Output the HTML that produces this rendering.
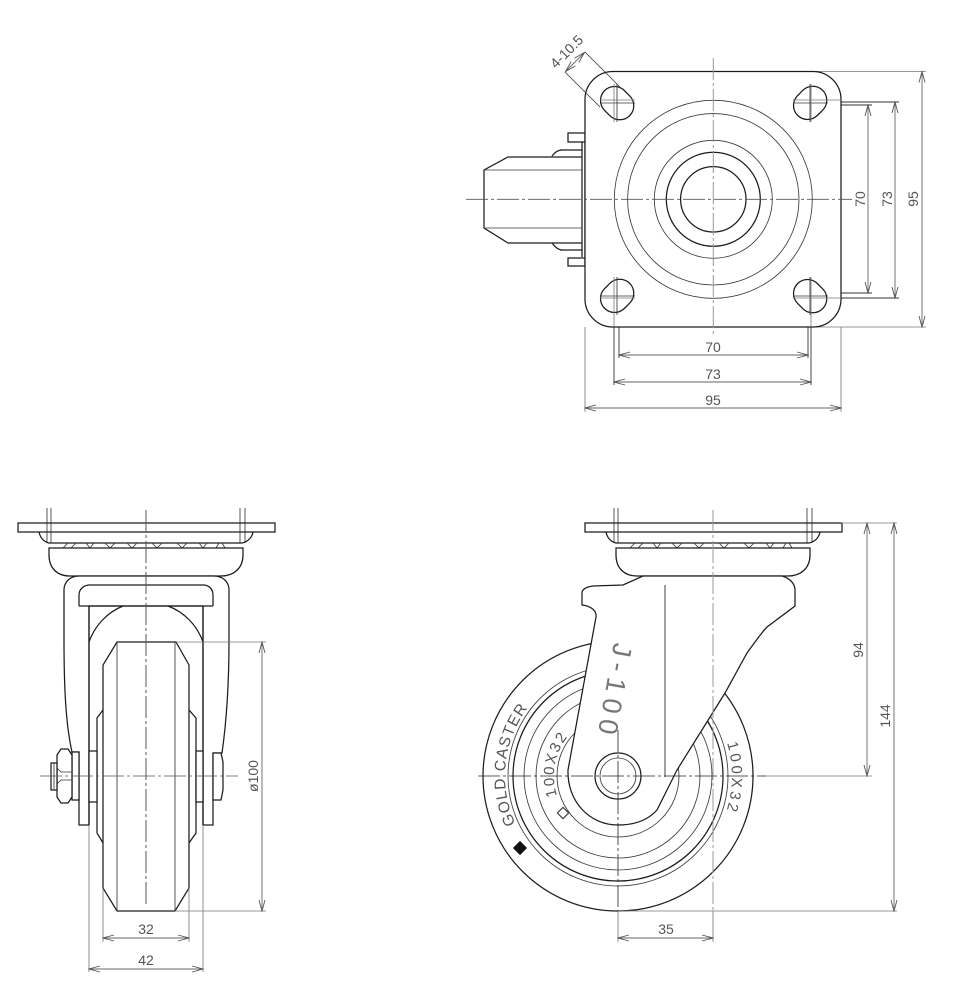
<!DOCTYPE html>
<html><head><meta charset="utf-8"><style>
html,body{margin:0;padding:0;background:#fff}
svg{display:block}
text{font-family:"Liberation Sans",sans-serif;fill:#555}
.m{fill:none;stroke:#1c1c1c;stroke-width:1.25}
.w{fill:#fff;stroke:#1c1c1c;stroke-width:1.25}
.t{fill:none;stroke:#3a3a3a;stroke-width:.85}
.e{fill:none;stroke:#777;stroke-width:.8}
.k{fill:none;stroke:#333;stroke-width:.9}
.d{fill:none;stroke:#666;stroke-width:.9}
.c{fill:none;stroke:#555;stroke-width:.8;stroke-dasharray:22 3 3 3}
.cg{fill:none;stroke:#999;stroke-width:1;stroke-dasharray:22 3 3 3}
.n{font-size:14px;text-anchor:middle}
</style></head><body>
<svg width="957" height="1000" viewBox="0 0 957 1000" xmlns="http://www.w3.org/2000/svg">
<defs>
<marker id="a" markerUnits="userSpaceOnUse" markerWidth="14" markerHeight="8" refX="13" refY="4" orient="auto-start-reverse" viewBox="0 0 14 8"><path d="M2 1 L13 4 L2 7" fill="none" stroke="#555" stroke-width=".9"/></marker>
<g id="head">
<path class="t" d="M-99 508V543M-95 508V543M94 508V543M99 508V543"/>
<rect class="m" x="-128" y="523" width="257" height="9"/>
<path class="m" d="M-107 532Q-105 541 -97 543H96Q105 541 107 532"/>
<path class="t" d="M-83 548L-78 543M-75 548L-70 543M-60 543L-56 548L-52 543M-41 543L-36 548L-31 543M-19 543L-14 548L-9 543M6 543L11 548L16 543M31 543L36 548L41 543M53 543L57 548L61 543M70 548L73 543M79 548L76 543"/>
<path class="w" d="M-97 548H97V555C97 568 88 576 75 576H-76C-89 576 -97 568 -97 555Z"/>
</g>
<path id="p1" d="M515.6 823.8A113 113 0 0 1 527.8 708"/>
<path id="p2" d="M557.1 795.8A64 64 0 0 1 569 735"/>
<path id="p3" d="M727 743A114 114 0 0 1 726.4 811"/>
</defs>

<!-- TOP VIEW -->
<g>
<path class="k" d="M619 300V358M808 300V358M614 296V385M811 296V385"/>
<path class="e" d="M585 327V412M841 327V412"/>
<path class="e" d="M815 71.5H926M815 327H926"/>
<path class="k" d="M809 102H899M809 298H899M809 105H872M809 293H872"/>
<path class="m" d="M568 133H585V142H568ZM568 258H585V266H568Z" />
<path class="m" d="M582 142V257M585 142V257M560 150H582M552 156C555 152 558 150 562 150M560 250H582M552 243C555 247 558 250 562 250"/>
<path class="m" d="M582 157H508L484 170V228L508 243H582"/>
<path class="t" d="M484 170H582M484 228H582"/>
<rect class="w" x="585" y="71.5" width="256" height="255.500" rx="28"/>
<circle class="t" cx="713.300" cy="199.300" r="99"/>
<circle class="t" cx="713.300" cy="199.300" r="85.700"/>
<circle class="t" cx="713.300" cy="199.300" r="59"/>
<circle class="m" cx="713.300" cy="199.300" r="47"/>
<circle class="m" cx="713.300" cy="199.300" r="32.700"/>
<rect class="m" x="599.500" y="89" width="35.400" height="28" rx="14" transform="rotate(45 617 103)"/>
<rect class="m" x="792.500" y="89" width="35.400" height="28" rx="14" transform="rotate(-45 810 103)"/>
<rect class="m" x="599.500" y="282" width="35.400" height="28" rx="14" transform="rotate(-45 617 296)"/>
<rect class="m" x="792.500" y="282" width="35.400" height="28" rx="14" transform="rotate(45 810 296)"/>
<path class="t" d="M600 103H635M617 84V122M793 103H828M810 84V122M600 296H635M617 277V315M793 296H828M810 277V315"/>
<path class="e" d="M614 84V122M811 84V122M614 277V327M811 277V327M600 100H635M793 100H841M600 298H635M793 298H841"/>
<path class="c" d="M466 199.300H852"/>
<path class="cg" d="M713.300 58V335"/>
<path class="d" d="M619 355H808" marker-start="url(#a)" marker-end="url(#a)"/>
<path class="d" d="M614 382H811" marker-start="url(#a)" marker-end="url(#a)"/>
<path class="d" d="M585 408H841" marker-start="url(#a)" marker-end="url(#a)"/>
<path class="d" d="M868 105V293" marker-start="url(#a)" marker-end="url(#a)"/>
<path class="d" d="M895 102V298" marker-start="url(#a)" marker-end="url(#a)"/>
<path class="d" d="M922 71.500V327" marker-start="url(#a)" marker-end="url(#a)"/>
<text class="n" x="713" y="352">70</text>
<text class="n" x="713" y="379">73</text>
<text class="n" x="713" y="405">95</text>
<text class="n" transform="translate(865 199) rotate(-90)">70</text>
<text class="n" transform="translate(892 199) rotate(-90)">73</text>
<text class="n" transform="translate(918 199) rotate(-90)">95</text>
<path class="t" d="M565 72L600 107M585 52L620 87"/>
<path class="d" d="M565.500 71.500L584.500 52.500" marker-start="url(#a)" marker-end="url(#a)"/>
<text font-size="14" text-anchor="middle" textLength="40" lengthAdjust="spacingAndGlyphs" transform="translate(570 55) rotate(-45)">4-10.5</text>
</g>

<!-- FRONT VIEW -->
<g>
<use href="#head" x="146"/>
<path class="w" d="M79 576C70 576 64 582 64 590V640C64 690 66 725 72 752H79V825H89V606H203V825H213V753H222C226 725 229 690 229 640V590C229 582 223 576 214 576Z"/>
<path class="m" d="M79 606V595C79 589 84 585 90 585H203C209 585 213 589 213 595V606M79 606H213"/>
<path class="m" d="M89 642C95 625 108 612 123 606M203 642C197 625 184 612 168 606"/>
<path class="m" d="M89 606V825M203 606V825"/>
<path class="w" d="M97 833V718L103 710H189L196 718V833L189 843H103Z"/>
<rect class="w" x="89" y="751" width="8" height="51"/>
<rect class="w" x="196" y="751" width="7" height="51"/>
<path class="w" d="M117 642H176L189 665V888L175 911H117L103 888V665Z"/>
<path class="t" d="M117 642V911M175 642V911"/>
<rect class="w" x="72" y="752" width="7" height="48"/>
<path class="w" d="M61 749H68L72 755V797L68 803H61L57 797V755Z"/>
<path class="t" d="M57 768L61 772H72M57 784L61 780H72"/>
<rect class="w" x="51" y="763" width="6" height="27"/>
<path class="t" d="M54 763V790"/>
<path class="w" d="M213 753H221L223 762V790L221 800H213Z"/>
<path class="c" d="M40 776H238"/>
<path class="cg" d="M146 510V905" style="stroke:#555"/>
<path class="e" d="M176 642H266M175 911H266M103 888V942M189 888V942M89 825V972M203 825V972"/>
<path class="d" d="M262 642V911" marker-start="url(#a)" marker-end="url(#a)"/>
<path class="d" d="M103 938H189" marker-start="url(#a)" marker-end="url(#a)"/>
<path class="d" d="M89 969H203" marker-start="url(#a)" marker-end="url(#a)"/>
<text class="n" x="146" y="934">32</text>
<text class="n" x="146" y="965">42</text>
<text class="n" transform="translate(258 776) rotate(-90)">ø100</text>
</g>

<!-- SIDE VIEW -->
<g>
<use href="#head" x="713"/>
<circle class="m" cx="618" cy="776" r="135"/>
<circle class="t" cx="618" cy="776" r="110"/>
<circle class="m" cx="618" cy="776" r="105"/>
<circle class="t" cx="618" cy="776" r="94"/>
<circle class="t" cx="618" cy="776" r="82"/>
<circle class="t" cx="618" cy="776" r="61"/>
<text font-size="15.500" textLength="122" lengthAdjust="spacing"><textPath href="#p1">GOLD CASTER</textPath></text>
<text font-size="15" textLength="62"><textPath href="#p2">100X32</textPath></text>
<text font-size="15" textLength="68"><textPath href="#p3">100X32</textPath></text>
<path class="w" d="M643 576L623 585L593 586C586 587 582 589 582 593V605C590 606 597 610 596 617L568 770C567 802 590 825 618 825C635 825 648 820 657 810L677 770L725 693L747 653C755 642 762 632 767 627L795 606V590C795 583 789 578 782 576Z"/>
<path class="t" d="M665 585V777" style="stroke:#222"/>
<text font-size="27" textLength="92" lengthAdjust="spacing" transform="translate(614 642) rotate(100)" style="fill:#777">J-100</text>
<circle class="w" cx="618" cy="776" r="23"/>
<circle class="t" cx="618" cy="776" r="18"/>
<rect x="515" y="843" width="10" height="10" fill="#111" transform="rotate(45 520 848)"/>
<rect x="559" y="809" width="8" height="8" fill="#fff" stroke="#444" stroke-width="1.200" transform="rotate(45 563 813)"/>
<path class="c" d="M478 776H766" style="stroke:#222"/>
<path class="e" d="M766 776H872M618 911H897M841 523H897"/>
<path class="c" d="M618 730V911" style="stroke:#222"/>
<path class="e" d="M618 911V942M713 911V942"/>
<path class="cg" d="M713 510V911"/>
<path class="d" d="M867 523V776" marker-start="url(#a)" marker-end="url(#a)"/>
<path class="d" d="M894 523V911" marker-start="url(#a)" marker-end="url(#a)"/>
<path class="d" d="M618 938H713" marker-start="url(#a)" marker-end="url(#a)"/>
<text class="n" x="666" y="934">35</text>
<text class="n" transform="translate(863 650) rotate(-90)">94</text>
<text class="n" transform="translate(890 716) rotate(-90)">144</text>
</g>
</svg>
</body></html>
